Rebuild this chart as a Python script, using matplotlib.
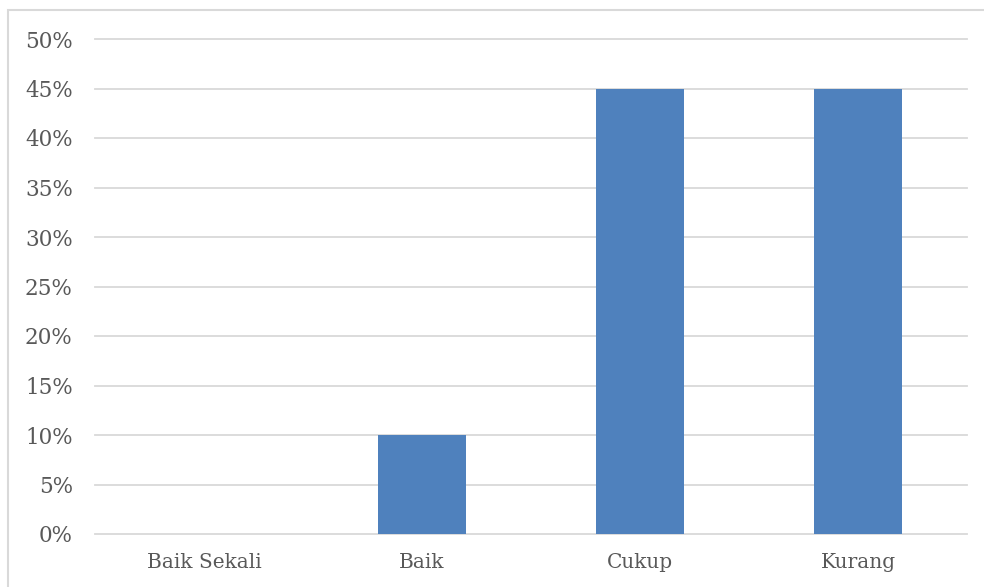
import matplotlib
matplotlib.use("Agg")
import matplotlib.pyplot as plt
from matplotlib.patches import Rectangle
from matplotlib.ticker import PercentFormatter

categories = ["Baik Sekali", "Baik", "Cukup", "Kurang"]
values = [0, 10, 45, 45]
yticks = [0, 5, 10, 15, 20, 25, 30, 35, 40, 45, 50]

plt.rcParams["font.family"] = ["DejaVu Serif"]
text_color = "#595959"

fig = plt.figure(figsize=(9.84, 5.87), dpi=100)
ax = fig.add_axes([95 / 984, 53 / 587, 872 / 984, 495 / 587])

x = range(len(categories))
ax.bar(x, values, width=0.4, color="#4f81bd", zorder=3)

ax.set_xlim(-0.5, len(categories) - 0.5)
ax.set_ylim(0, 50)
ax.set_yticks(yticks)
ax.yaxis.set_major_formatter(PercentFormatter(decimals=0))
ax.set_xticks(list(x))
ax.set_xticklabels(categories)
ax.grid(axis="y", color="#d9d9d9", linewidth=1.3, zorder=0)
for gl in ax.get_ygridlines():
    gl.set_clip_on(False)
ax.tick_params(length=0, colors=text_color)
ax.tick_params(axis="y", pad=16, labelsize=15.5)
ax.tick_params(axis="x", pad=14, labelsize=14.5)
for s in ax.spines.values():
    s.set_visible(False)

# outer chart border, cut off at right and bottom
fig.patches.append(Rectangle((8 / 984, -0.1), 1.2, 1.1 - 10 / 587,
                             transform=fig.transFigure, fill=False,
                             edgecolor="#d9d9d9", linewidth=1.5))

fig.savefig("out.png", dpi=100)
